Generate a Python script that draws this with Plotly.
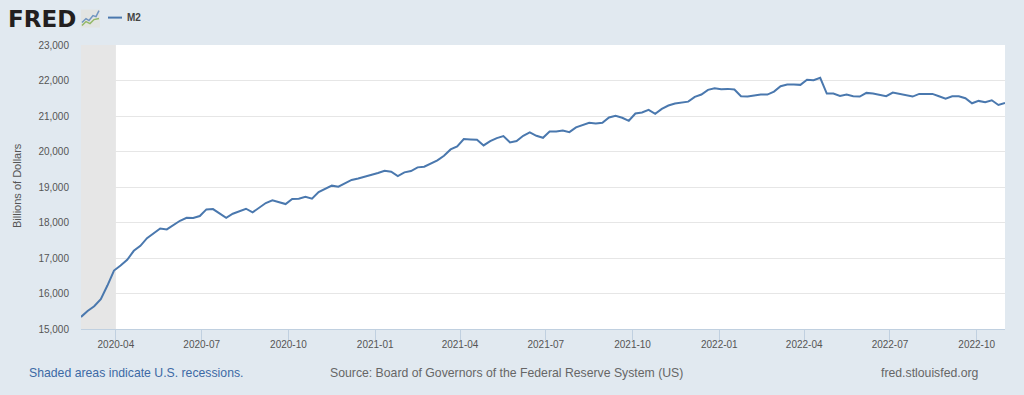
import pandas as pd
import plotly.graph_objects as go

START_DATE = "2020-02-24"
M2 = [15339,15508,15640,15838,16224,16647,16788,16948,17202,17344,17560,17701,17833,17805,17936,18049,18134,18125,18181,18369,
      18379,18266,18134,18247,18322,18388,18285,18416,18548,18624,18576,18520,18661,18671,18727,18671,18859,18944,19038,19009,
      19094,19198,19240,19290,19328,19394,19459,19431,19309,19412,19450,19553,19572,19656,19750,19881,20059,20143,20350,20340,
      20331,20172,20293,20378,20434,20256,20293,20443,20537,20443,20387,20565,20565,20593,20546,20678,20734,20809,20790,20809,
      20959,21006,20950,20865,21071,21099,21174,21062,21202,21296,21352,21375,21405,21538,21604,21736,21783,21755,21764,21745,
      21557,21547,21585,21604,21604,21689,21840,21887,21887,21877,22019,22009,22075,21632,21632,21566,21604,21557,21547,21651,
      21632,21585,21557,21660,21623,21594,21547,21623,21613,21623,21557,21490,21557,21557,21500,21358,21425,21387,21443,21311,21368]
DATES = pd.date_range(START_DATE, periods=len(M2), freq="7D")
X_TICKS = ["2020-04-01","2020-07-01","2020-10-01","2021-01-01","2021-04-01","2021-07-01","2021-10-01",
           "2022-01-01","2022-04-01","2022-07-01","2022-10-01"]
Y_TICKS = [15000,16000,17000,18000,19000,20000,21000,22000,23000]
RECESSION = ["2020-02-01", "2020-04-01"]
X_RANGE = ["2020-02-24", "2022-10-31"]

W, H = 1024, 395
L, R, T, B = 81, 19, 44.5, 65.5
BG = "#e1e9f0"
FONT = "Liberation Sans"
LINE = "#4a78ae"

def px(x): return (x - L) / (W - L - R)
def py(y): return 1 - (y - T) / (H - T - B)

fig = go.Figure(go.Scatter(x=DATES, y=M2, mode="lines", line=dict(color=LINE, width=2), hoverinfo="x+y"))

shapes = [
    dict(type="rect", xref="x", yref="paper", x0=RECESSION[0], x1=RECESSION[1], y0=0, y1=1,
         fillcolor="#e6e6e6", line_width=0, layer="below"),
    # legend key
    dict(type="line", xref="paper", yref="paper", x0=px(108), x1=px(122), y0=py(17), y1=py(17),
         line=dict(color=LINE, width=2)),
    # logo icon
    dict(type="rect", xref="paper", yref="paper", x0=px(81), x1=px(100), y0=py(9), y1=py(27),
         fillcolor="#e2e4e2", line_width=0),
    dict(type="path", xref="paper", yref="paper",
         path=f"M {px(82)} {py(22)} L {px(86)} {py(18)} L {px(89)} {py(20)} L {px(93)} {py(15)} L {px(96)} {py(16)} L {px(99)} {py(10)}",
         line=dict(color="#6f94c0", width=1.5)),
    dict(type="path", xref="paper", yref="paper",
         path=f"M {px(82)} {py(25)} L {px(86)} {py(21)} L {px(90)} {py(23)} L {px(94)} {py(19)} L {px(99)} {py(18)}",
         line=dict(color="#93b866", width=1.5)),
]

def note(x, y, text, size, color, anchor="left", bold=False, angle=0, family=FONT):
    return dict(xref="paper", yref="paper", x=px(x), y=py(y), text=f"<b>{text}</b>" if bold else text,
                showarrow=False, xanchor=anchor, yanchor="middle", textangle=angle,
                font=dict(family=family, size=size, color=color), align="left")

annotations = [
    note(6, 18, "FRED", 23, "#231f20", bold=True, family="DejaVu Sans"),
    note(125, 17, "M2", 10, "#444444", bold=True),
    note(17, 186, "Billions of Dollars", 11, "#555555", anchor="center", angle=-90),
    note(27, 373.5, "Shaded areas indicate U.S. recessions.", 12.25, "#3d6aa5"),
    note(328, 373.5, "Source: Board of Governors of the Federal Reserve System (US)", 12.25, "#666666"),
    note(981, 373.5, "fred.stlouisfed.org", 12.25, "#666666", anchor="right"),
]

fig.update_layout(
    width=W, height=H, margin=dict(l=L, r=R, t=T, b=B, pad=0),
    paper_bgcolor=BG, plot_bgcolor="#ffffff", showlegend=False,
    font=dict(family=FONT, size=10, color="#555555"),
    shapes=shapes, annotations=annotations,
    xaxis=dict(range=X_RANGE, tickvals=X_TICKS, tickformat="%Y-%m", showgrid=False, zeroline=False,
               ticks="outside", ticklen=10, tickwidth=1, tickcolor="#c0d0e0",
               showline=True, linecolor="#c0d0e0", linewidth=1, ticklabelstandoff=-4,
               tickfont=dict(family=FONT, size=10, color="#555555")),
    yaxis=dict(range=[15000, 23000], tickvals=Y_TICKS, tickformat=",", showgrid=True, gridcolor="#e6e6e6",
               gridwidth=1, zeroline=False, ticks="", showline=False,
               tickfont=dict(family=FONT, size=10, color="#555555"), ticklabelstandoff=11),
)

fig.write_html("out.html", config=dict(displayModeBar=False),
               post_script="document.body.style.margin='0';")
